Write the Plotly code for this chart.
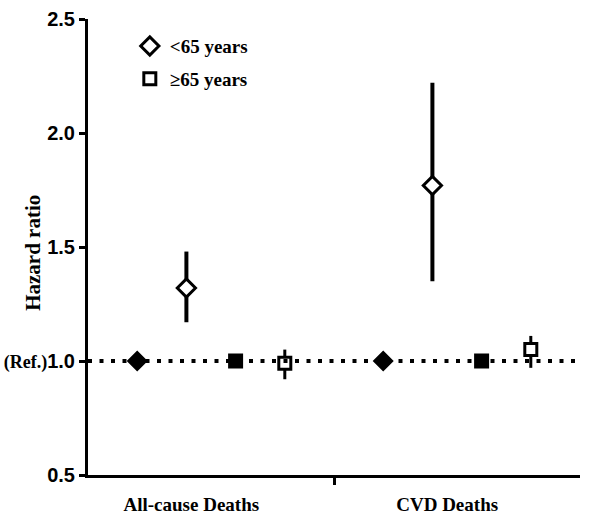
import plotly.graph_objects as go

# ---- data ----
categories = ["All-cause Deaths", "CVD Deaths"]
ref_hr = [1.0, 1.0]
hr_under65 = [1.32, 1.77]
lo_under65 = [1.17, 1.35]
hi_under65 = [1.48, 2.22]
hr_65plus = [0.99, 1.05]
lo_65plus = [0.92, 0.97]
hi_65plus = [1.05, 1.11]
y_ticks = [0.5, 1.0, 1.5, 2.0, 2.5]
y_ticktext = ["0.5", "<span style='font-family:Liberation Serif;font-size:18px'>(Ref.)</span>1.0", "1.5", "2.0", "2.5"]
series_names = ["<65 years", "≥65 years"]

# ---- positions (computed) ----
group_step = 5
x_ref_u = [1 + g * group_step for g in range(len(categories))]
x_u = [2 + g * group_step for g in range(len(categories))]
x_ref_o = [3 + g * group_step for g in range(len(categories))]
x_o = [4 + g * group_step for g in range(len(categories))]
label_x = [2.1 + g * group_step * 1.04 for g in range(len(categories))]

SERIF = "Liberation Serif, Times New Roman"
SANS = "Liberation Sans, Arial"

fig = go.Figure()

fig.add_trace(go.Scatter(x=x_ref_u, y=ref_hr, mode="markers", showlegend=False,
                         marker=dict(symbol="diamond", size=14, color="black",
                                     line=dict(color="black", width=2))))
fig.add_trace(go.Scatter(x=x_ref_o, y=ref_hr, mode="markers", showlegend=False,
                         marker=dict(symbol="square", size=13, color="black",
                                     line=dict(color="black", width=2))))

fig.add_trace(go.Scatter(
    x=x_u, y=hr_under65, mode="markers", name=series_names[0], legendgroup="a",
    marker=dict(symbol="diamond", size=14, color="white", line=dict(color="black", width=3)),
    error_y=dict(type="data", symmetric=False,
                 array=[h - v for h, v in zip(hi_under65, hr_under65)],
                 arrayminus=[v - l for v, l in zip(hr_under65, lo_under65)],
                 color="black", thickness=4, width=0)))
fig.add_trace(go.Scatter(
    x=x_o, y=hr_65plus, mode="markers", name=series_names[1], legendgroup="b",
    marker=dict(symbol="square", size=12, color="white", line=dict(color="black", width=3)),
    error_y=dict(type="data", symmetric=False,
                 array=[h - v for h, v in zip(hi_65plus, hr_65plus)],
                 arrayminus=[v - l for v, l in zip(hr_65plus, lo_65plus)],
                 color="black", thickness=3, width=0)))

fig.add_shape(type="line", xref="x", yref="y", x0=0, x1=10, y0=ref_hr[0], y1=ref_hr[0],
              line=dict(color="black", width=4, dash="4px,7.5px"), layer="above")

fig.add_annotation(text="Hazard ratio", xref="paper", yref="paper", x=-0.112, y=0.487,
                   xanchor="center", yanchor="middle", textangle=-90, showarrow=False,
                   font=dict(family=SERIF, size=21, color="black", weight="bold"))

fig.update_layout(
    width=600, height=528,
    margin=dict(l=88, r=20, t=19, b=53),
    paper_bgcolor="white", plot_bgcolor="white",
    showlegend=True,
    legend=dict(x=0.085, y=0.982, xanchor="left", yanchor="top",
                font=dict(family=SERIF, size=19, color="black", weight="bold"),
                tracegroupgap=5, bgcolor="rgba(0,0,0,0)"),
    xaxis=dict(range=[0, 10], showgrid=False, zeroline=False, automargin=False,
               showline=True, linecolor="black", linewidth=3,
               tickvals=label_x, ticktext=categories, ticks="outside", ticklen=0,
               ticklabelstandoff=10,
               tickfont=dict(family=SERIF, size=19, color="black", weight="bold"),
               minor=dict(tickvals=[5], ticks="outside", ticklen=7, tickwidth=3, tickcolor="black")),
    yaxis=dict(range=[0.5, 2.5], showgrid=False, zeroline=False, automargin=False,
               showline=True, linecolor="black", linewidth=3,
               tickvals=y_ticks, ticktext=y_ticktext, ticks="outside", ticklen=6, tickwidth=3,
               tickcolor="black",
               tickfont=dict(family=SANS, size=20, color="black", weight="bold")),
)

fig.write_html("out.html", config={"displayModeBar": False},
               post_script="document.body.style.margin='0';")
